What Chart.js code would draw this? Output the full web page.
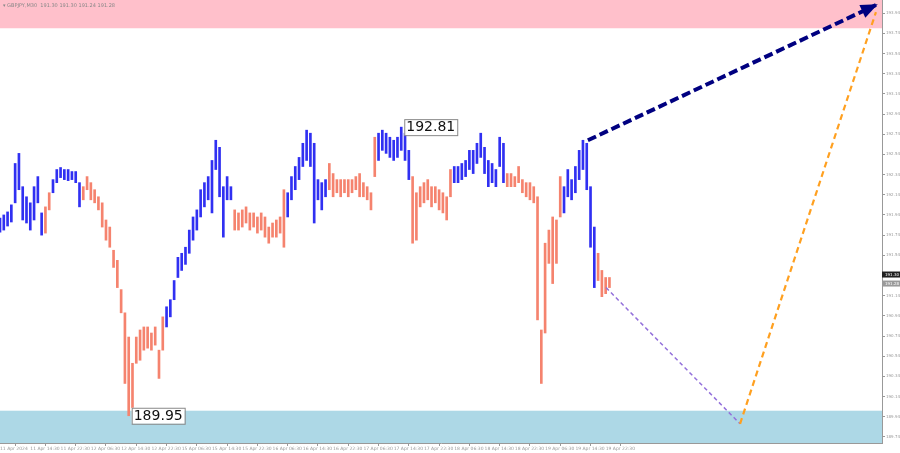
<!DOCTYPE html>
<html lang="en">
<head>
<meta charset="UTF-8">
<title>GBPJPY M30</title>
<script src="https://cdn.jsdelivr.net/npm/chart.js"></script>
<style>
    html, body { margin: 0; padding: 0; background: #fff; }
    .wrap { width: 900px; height: 453px; }
</style>
</head>
<body>
<div class="wrap"><canvas id="chart" width="900" height="453"></canvas></div>
<script>
// one time label every 8 bars (each bar here = one hour, two M30 candles)
const timeLabels = [
    '11 Apr 2024', '11 Apr 14:30', '11 Apr 22:30', '12 Apr 06:30', '12 Apr 14:30', '12 Apr 22:30',
    '15 Apr 06:30', '15 Apr 14:30', '15 Apr 22:30', '16 Apr 06:30', '16 Apr 14:30', '16 Apr 22:30',
    '17 Apr 06:30', '17 Apr 14:30', '17 Apr 22:30', '18 Apr 06:30', '18 Apr 14:30', '18 Apr 22:30',
    '19 Apr 06:30', '19 Apr 14:30', '19 Apr 22:30'
];
const totalSlots = 234;

const lows = [
    191.77, 191.79, 191.83, 191.87, 192.06, 192.19, 191.89, 191.86, 191.79, 191.89,
    192.06, 191.74, 191.76, 191.99, 192.16, 192.26, 192.31, 192.29, 192.28, 192.29,
    192.26, 192.02, 192.09, 192.19, 192.09, 192.06, 191.99, 191.82, 191.69, 191.62,
    191.42, 191.22, 190.97, 190.27, 189.95, 190.03, 190.47, 190.50, 190.60, 190.62,
    190.60, 190.65, 190.32, 190.60, 190.83, 190.93, 191.10, 191.32, 191.39, 191.45,
    191.56, 191.69, 191.79, 191.92, 192.02, 192.09, 191.96, 192.39, 192.12, 191.72,
    192.09, 192.09, 191.79, 191.79, 191.82, 191.86, 191.79, 191.82, 191.76, 191.79,
    191.72, 191.66, 191.72, 191.72, 191.76, 191.62, 191.92, 192.09, 192.19, 192.29,
    192.42, 192.48, 192.42, 191.86, 192.09, 191.99, 192.12, 192.19, 192.12, 192.16,
    192.12, 192.16, 192.12, 192.16, 192.19, 192.12, 192.12, 192.09, 191.99, 192.32,
    192.48, 192.58, 192.55, 192.51, 192.48, 192.51, 192.58, 192.48, 192.29, 191.66,
    191.69, 192.02, 192.06, 192.09, 192.02, 192.06, 191.99, 191.96, 191.89, 192.12,
    192.26, 192.26, 192.29, 192.32, 192.39, 192.35, 192.45, 192.51, 192.35, 192.22,
    192.26, 192.22, 192.42, 192.26, 192.22, 192.22, 192.22, 192.26, 192.16, 192.12,
    192.09, 192.06, 190.90, 190.27, 190.77, 191.46, 191.26, 191.46, 191.92, 191.96,
    192.12, 192.09, 192.16, 192.29, 192.39, 192.19, 191.62, 191.22, 191.29, 191.13,
    191.16, 191.22
];
const highs = [
    191.91, 191.94, 191.97, 192.04, 192.45, 192.55, 192.22, 192.12, 192.06, 192.22,
    192.32, 191.96, 192.02, 192.16, 192.29, 192.39, 192.41, 192.39, 192.39, 192.37,
    192.37, 192.26, 192.22, 192.32, 192.26, 192.19, 192.12, 192.06, 191.89, 191.82,
    191.59, 191.49, 191.20, 190.97, 190.73, 190.47, 190.73, 190.80, 190.83, 190.83,
    190.77, 190.83, 190.60, 190.93, 191.03, 191.10, 191.29, 191.52, 191.56, 191.62,
    191.79, 191.92, 191.99, 192.19, 192.26, 192.32, 192.48, 192.68, 192.61, 192.22,
    192.32, 192.22, 191.99, 191.96, 191.99, 192.02, 191.96, 191.96, 191.92, 191.96,
    191.92, 191.82, 191.86, 191.89, 191.92, 192.19, 192.16, 192.32, 192.42, 192.51,
    192.65, 192.78, 192.75, 192.65, 192.29, 192.26, 192.29, 192.45, 192.35, 192.29,
    192.29, 192.29, 192.29, 192.29, 192.32, 192.35, 192.26, 192.22, 192.16, 192.71,
    192.75, 192.78, 192.75, 192.71, 192.68, 192.71, 192.81, 192.75, 192.58, 192.32,
    192.16, 192.22, 192.26, 192.29, 192.22, 192.22, 192.19, 192.16, 192.12, 192.39,
    192.42, 192.42, 192.45, 192.48, 192.58, 192.58, 192.65, 192.75, 192.61, 192.48,
    192.45, 192.39, 192.71, 192.65, 192.35, 192.35, 192.32, 192.42, 192.29, 192.26,
    192.26, 192.22, 192.12, 190.80, 191.66, 191.79, 191.92, 191.89, 192.32, 192.22,
    192.39, 192.29, 192.42, 192.58, 192.68, 192.65, 192.22, 191.82, 191.56, 191.39,
    191.32, 191.32
];

// bar index where each wave starts, and its direction
const waveStarts = [0, 12, 14, 22, 44, 62, 76, 87, 100, 109, 120, 134, 149, 158];
const waveDirs = ['up', 'down', 'up', 'down', 'up', 'down', 'up', 'down', 'up', 'down', 'up', 'down', 'up', 'down'];

const priceTicks = [
    189.74, 189.94, 190.14, 190.34, 190.54, 190.74, 190.94, 191.14, 191.34, 191.54, 191.74,
    191.94, 192.14, 192.34, 192.54, 192.74, 192.94, 193.14, 193.34, 193.54, 193.74, 193.94
];

const sellZone = [193.79, 194.07];
const buyZone = [189.68, 190.00];

// extreme labels: [bar index, price]
const extremes = [[106, 192.81], [34, 189.95]];

// forecast lines: [bar, price] start and end
const forecastMain = [[155.3, 192.68], [231.4, 194.02]];
const forecastDown = [[160.1, 191.22], [195.5, 189.87]];
const forecastUp = [[195.5, 189.87], [231.4, 193.95]];

const header = '\u25BE GBPJPY,M30  191.30 191.30 191.24 191.28';
const lastPrices = [191.30, 191.28];

const UP = '#3030f2';
const DOWN = '#f5836e';

const labels = [];
for (let i = 0; i < totalSlots; i++) {
    labels.push(i % 8 === 0 && timeLabels[i / 8] ? timeLabels[i / 8] : '');
}

const barColors = lows.map((_, i) => {
    let dir = waveDirs[0];
    waveStarts.forEach((s, k) => { if (i >= s) dir = waveDirs[k]; });
    return dir === 'up' ? UP : DOWN;
});

function drawDashed(ctx, x, y, a, b, color, width, dash) {
    ctx.save();
    ctx.strokeStyle = color;
    ctx.lineWidth = width;
    ctx.setLineDash(dash);
    ctx.beginPath();
    ctx.moveTo(x.getPixelForValue(a[0]), y.getPixelForValue(a[1]));
    ctx.lineTo(x.getPixelForValue(b[0]), y.getPixelForValue(b[1]));
    ctx.stroke();
    ctx.restore();
}

const overlay = {
    id: 'overlay',
    beforeDatasetsDraw(chart) {
        const { ctx, chartArea: a, scales: { y } } = chart;
        ctx.save();
        ctx.fillStyle = '#ffc0cb';
        let t = y.getPixelForValue(sellZone[1]), b = y.getPixelForValue(sellZone[0]);
        ctx.fillRect(a.left, t, a.right - a.left, b - t);
        ctx.fillStyle = '#add8e6';
        t = y.getPixelForValue(buyZone[1]); b = y.getPixelForValue(buyZone[0]);
        ctx.fillRect(a.left, t, a.right - a.left, b - t);
        ctx.restore();
    },
    afterDatasetsDraw(chart) {
        const { ctx, scales: { x, y } } = chart;
        drawDashed(ctx, x, y, forecastDown[0], forecastDown[1], '#9370db', 1.5, [4, 3]);
        drawDashed(ctx, x, y, forecastUp[0], forecastUp[1], '#ffa020', 2.2, [6, 4]);
        drawDashed(ctx, x, y, forecastMain[0], forecastMain[1], '#000080', 4, [9, 4]);

        // arrow head on the main forecast
        const x1 = x.getPixelForValue(forecastMain[0][0]), y1 = y.getPixelForValue(forecastMain[0][1]);
        const x2 = x.getPixelForValue(forecastMain[1][0]), y2 = y.getPixelForValue(forecastMain[1][1]);
        const ang = Math.atan2(y2 - y1, x2 - x1);
        ctx.save();
        ctx.translate(x2, y2);
        ctx.rotate(ang);
        ctx.fillStyle = '#000080';
        ctx.beginPath();
        ctx.moveTo(2, 0);
        ctx.lineTo(-15, -7);
        ctx.lineTo(-15, 7);
        ctx.closePath();
        ctx.fill();
        ctx.restore();

        // extreme price boxes
        ctx.save();
        ctx.font = '14px "DejaVu Sans", sans-serif';
        ctx.textBaseline = 'middle';
        extremes.forEach(([bar, price]) => {
            const text = price.toFixed(2);
            const px = x.getPixelForValue(bar) + 3;
            const py = y.getPixelForValue(price);
            const w = ctx.measureText(text).width + 4;
            ctx.fillStyle = '#fff';
            ctx.fillRect(px, py - 8, w, 16);
            ctx.strokeStyle = '#888';
            ctx.lineWidth = 1;
            ctx.strokeRect(px + 0.5, py - 7.5, w, 16);
            ctx.fillStyle = '#111';
            ctx.fillText(text, px + 2, py + 0.5);
        });
        ctx.restore();
    },
    afterDraw(chart) {
        const { ctx, chartArea: a, scales: { y } } = chart;
        ctx.save();
        ctx.font = '5px "DejaVu Sans", sans-serif';
        ctx.fillStyle = '#888';
        ctx.textBaseline = 'middle';
        ctx.fillText(header, 3, 6);

        // last price markers on the price axis
        ctx.font = '4px "DejaVu Sans", sans-serif';
        const p1 = y.getPixelForValue(lastPrices[0]) - 5;
        const p2 = y.getPixelForValue(lastPrices[1]) + 2;
        ctx.fillStyle = '#222';
        ctx.fillRect(a.right, p1 - 3, 18, 6);
        ctx.fillStyle = '#fff';
        ctx.fillText(lastPrices[0].toFixed(2), a.right + 3, p1);
        ctx.fillStyle = '#9a9a9a';
        ctx.fillRect(a.right, p2 - 3, 18, 6);
        ctx.fillStyle = '#fff';
        ctx.fillText(lastPrices[1].toFixed(2), a.right + 3, p2);
        ctx.restore();
    }
};

new Chart(document.getElementById('chart'), {
    type: 'bar',
    data: {
        labels: labels,
        datasets: [{
            data: lows.map((lo, i) => [lo, highs[i]]),
            backgroundColor: barColors,
            borderWidth: 0,
            barThickness: 2
        }]
    },
    options: {
        responsive: false,
        animation: false,
        layout: { padding: 0 },
        plugins: { legend: { display: false }, tooltip: { enabled: false } },
        scales: {
            x: {
                offset: false,
                grid: { display: true, drawOnChartArea: false, tickLength: 3, color: '#999' },
                border: { color: '#999' },
                afterBuildTicks: s => { s.ticks = s.ticks.filter(t => t.value % 8 === 0 && labels[t.value]); },
                afterFit: s => { s.height = 10; s.paddingLeft = 0; s.paddingRight = 0; },
                ticks: {
                    autoSkip: false,
                    maxRotation: 0,
                    align: 'start',
                    padding: 0,
                    color: '#999',
                    font: { size: 4.5, family: 'DejaVu Sans' }
                }
            },
            y: {
                position: 'right',
                min: 189.68,
                max: 194.07,
                grid: { display: true, drawOnChartArea: false, tickLength: 3, color: '#999' },
                border: { color: '#999' },
                afterBuildTicks: s => { s.ticks = priceTicks.map(v => ({ value: v })); },
                afterFit: s => { s.width = 18; s.paddingTop = 0; s.paddingBottom = 0; },
                ticks: {
                    padding: 1,
                    color: '#999',
                    font: { size: 4, family: 'DejaVu Sans' },
                    callback: v => v.toFixed(2)
                }
            }
        }
    },
    plugins: [overlay]
});
</script>
</body>
</html>
